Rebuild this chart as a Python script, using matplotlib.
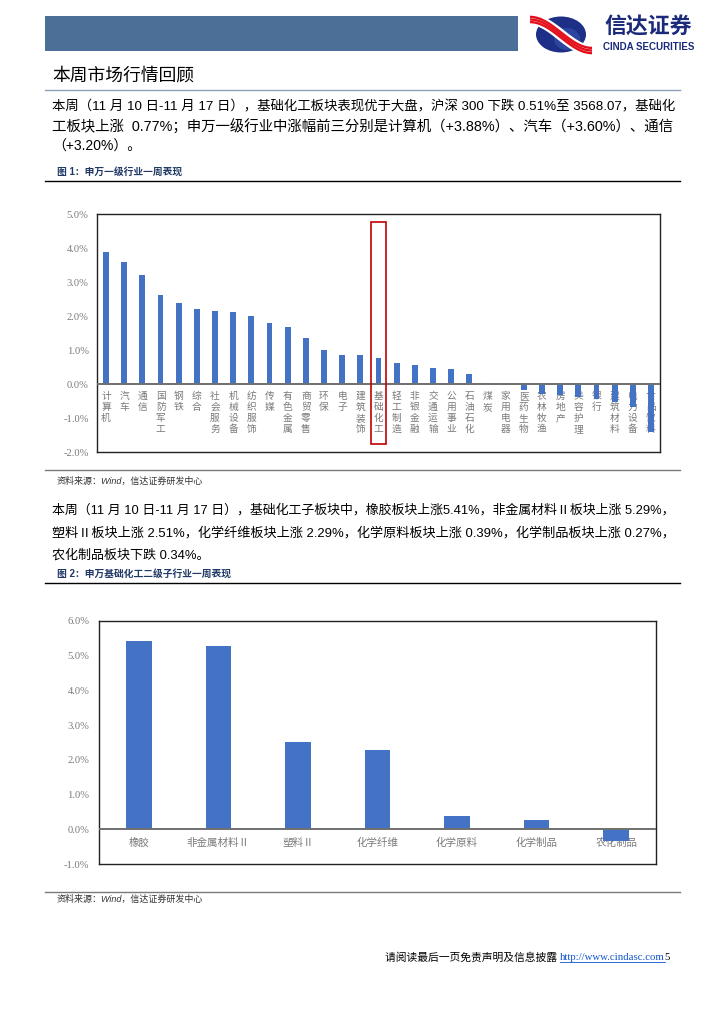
import matplotlib
matplotlib.use('Agg')
import matplotlib.pyplot as plt
from matplotlib.patches import Rectangle, Ellipse
from matplotlib.lines import Line2D
import numpy as np

plt.rcParams['font.family'] = ['Liberation Sans', 'Noto Sans CJK SC', 'DejaVu Sans']

W, H = 724, 1024

# 图1 数据：申万一级行业一周涨跌幅(%)
industries = ['计算机', '汽车', '通信', '国防军工', '钢铁', '综合', '社会服务', '机械设备',
              '纺织服饰', '传媒', '有色金属', '商贸零售', '环保', '电子', '建筑装饰',
              '基础化工', '轻工制造', '非银金融', '交通运输', '公用事业', '石油石化', '煤炭',
              '家用电器', '医药生物', '农林牧渔', '房地产', '美容护理', '银行', '建筑材料',
              '电力设备', '食品饮料']
ind_chg = [3.88, 3.60, 3.20, 2.61, 2.38, 2.20, 2.14, 2.12, 1.99, 1.79, 1.67, 1.34, 1.01,
           0.86, 0.85, 0.77, 0.63, 0.57, 0.48, 0.44, 0.28, 0.02, -0.03, -0.19, -0.30,
           -0.32, -0.37, -0.43, -0.52, -0.69, -1.41]
highlight = '基础化工'
y1_ticks = [-2, -1, 0, 1, 2, 3, 4, 5]

# 图2 数据：基础化工二级子行业
sub_names = ['橡胶', '非金属材料Ⅱ', '塑料Ⅱ', '化学纤维', '化学原料', '化学制品', '农化制品']
sub_chg = [5.41, 5.29, 2.51, 2.29, 0.39, 0.27, -0.34]
y2_ticks = [-1, 0, 1, 2, 3, 4, 5, 6]

para1 = ['本周（11 月 10 日-11 月 17 日），基础化工板块表现优于大盘，沪深 300 下跌 0.51%至 3568.07，基础化',
         '工板块上涨  0.77%；申万一级行业中涨幅前三分别是计算机（+3.88%）、汽车（+3.60%）、通信',
         '（+3.20%）。']
para2 = ['本周（11 月 10 日-11 月 17 日），基础化工子板块中，橡胶板块上涨5.41%，非金属材料Ⅱ板块上涨 5.29%，',
         '塑料Ⅱ板块上涨 2.51%，化学纤维板块上涨 2.29%，化学原料板块上涨 0.39%，化学制品板块上涨 0.27%，',
         '农化制品板块下跌 0.34%。']

BLUE = '#4472C4'
GRAY = '#7a7a7a'

fig = plt.figure(figsize=(W / 100, H / 100), dpi=100)
renderer = fig.canvas.get_renderer()


def fy(y):
    return 1 - y / H


def hline(x0, x1, y, color, lw):
    fig.add_artist(Line2D([x0 / W, x1 / W], [fy(y), fy(y)], color=color, lw=lw))


def put(x, y, s, size, **kw):
    kw.setdefault('va', 'center')
    return fig.text(x / W, fy(y), s, fontsize=size, **kw)


def fit(t, width):
    bb = t.get_window_extent(renderer)
    t.set_fontsize(t.get_fontsize() * width / bb.width)
    return t.get_fontsize()


def paragraph(lines, ys, x0, x1):
    sizes = []
    texts = []
    for s, y in zip(lines, ys):
        texts.append(put(x0, y, s, 9, color='black'))
    for t in texts[:-1]:
        sizes.append(fit(t, x1 - x0))
    texts[-1].set_fontsize(np.mean(sizes))


# 页眉
fig.add_artist(Rectangle((45 / W, fy(51)), (518 - 45) / W, 35 / H,
                         transform=fig.transFigure, color='#4B6F96', lw=0))
lax = fig.add_axes([528 / W, fy(55), 66 / W, 41 / H])
lax.set_xlim(0, 66)
lax.set_ylim(0, 41)
lax.axis('off')
lax.add_patch(Ellipse((33, 20.5), 50, 36, color='#1d2f86', lw=0))
lax.add_patch(Ellipse((39, 16), 26, 22, color='#3f5bb8', alpha=0.5, lw=0))
tt = np.linspace(0, 1, 80)
bx = 2 + 62 * tt
by = 20 + 15.5 * np.cos(np.pi * tt)
lax.plot(bx, by, color='white', lw=8, solid_capstyle='butt')
for off in [-2.6, 0, 2.6]:
    lax.plot(bx, by + off, color='#e3101c', lw=1.7, solid_capstyle='butt')
t = put(604, 27, '信达证券', 14, color='#1b2a7a', weight='bold', family=['Noto Sans CJK SC'])
fit(t, 88)
t = put(603, 47.5, 'CINDA SECURITIES', 5.2, color='#1b2a7a', weight='bold', family=['Liberation Sans'])
fit(t, 92)

# 标题与正文
put(52, 76, '本周市场行情回顾', 12.8, color='black', family=['Noto Sans CJK SC'])
hline(45, 680, 90, '#8ea0b8', 1.0)
paragraph(para1, [107, 127, 147], 52, 677)
put(57, 172, '图 1：申万一级行业一周表现', 7, color='#1f3864', weight='bold')
hline(45, 680, 181, 'black', 1.0)

# 图1
ax1 = fig.add_axes([97 / W, fy(452), (660 - 97) / W, (452 - 214) / H])
x1 = np.arange(len(industries))
ax1.bar(x1, ind_chg, width=0.32, color=BLUE, zorder=2)
ax1.set_xlim(-0.5, len(industries) - 0.5)
ax1.set_ylim(min(y1_ticks), max(y1_ticks))
ax1.axhline(0, color='#6f6f6f', lw=1.4, zorder=3)
ax1.set_xticks([])
ax1.set_yticks(y1_ticks)
ax1.set_yticklabels([f'{v:.1f}%' for v in y1_ticks], family=['Liberation Serif'])
ax1.tick_params(axis='y', length=0, labelsize=7.6, labelcolor=GRAY, pad=6)
for sp in ax1.spines.values():
    sp.set_linewidth(1.0)
    sp.set_color('#222222')
for i, name in enumerate(industries):
    ax1.annotate('\n'.join(name), (i, 0), xytext=(0, -5), textcoords='offset points',
                 ha='center', va='top', fontsize=7, color=GRAY, linespacing=1.12,
                 family=['Noto Sans CJK SC'], zorder=1)
hi = industries.index(highlight)
ax1.add_patch(Rectangle((hi - 0.39, -1.77), 0.78, 6.54, fill=False, ec='#C00000',
                        lw=1.2, zorder=4))

hline(45, 680, 470, GRAY, 1.0)
put(57, 481, '资料来源：Wind，信达证券研发中心', 6.5, color='#333333', style='italic')

paragraph(para2, [510, 533, 555], 52, 677)
put(57, 574, '图 2：申万基础化工二级子行业一周表现', 7, color='#1f3864', weight='bold')
hline(45, 680, 583, 'black', 1.0)

# 图2
ax2 = fig.add_axes([99 / W, fy(864), (656 - 99) / W, (864 - 621) / H])
x2 = np.arange(len(sub_names))
ax2.bar(x2, sub_chg, width=0.32, color=BLUE, zorder=2)
ax2.set_xlim(-0.5, len(sub_names) - 0.5)
ax2.set_ylim(min(y2_ticks), max(y2_ticks))
ax2.axhline(0, color='#6f6f6f', lw=1.4, zorder=3)
ax2.set_xticks([])
ax2.set_yticks(y2_ticks)
ax2.set_yticklabels([f'{v:.1f}%' for v in y2_ticks], family=['Liberation Serif'])
ax2.tick_params(axis='y', length=0, labelsize=7.6, labelcolor=GRAY, pad=7)
for sp in ax2.spines.values():
    sp.set_linewidth(1.0)
    sp.set_color('#222222')
for i, name in enumerate(sub_names):
    ax2.annotate(name, (i, 0), xytext=(0, -10), textcoords='offset points',
                 ha='center', va='center', fontsize=7.6, color=GRAY,
                 family=['Noto Sans CJK SC'], zorder=1)

hline(45, 680, 892, GRAY, 1.0)
put(57, 899, '资料来源：Wind，信达证券研发中心', 6.5, color='#333333', style='italic')

# 页脚
fs = 7.2 * 287 / 266
t1 = put(385, 957, '请阅读最后一页免责声明及信息披露 ', fs, color='black')
bb = t1.get_window_extent(renderer)
t2 = fig.text(bb.x1 / W, fy(957), 'http://www.cindasc.com', fontsize=fs, color='#1155cc',
              va='center', family=['Liberation Serif'])
bb2 = t2.get_window_extent(renderer)
fig.add_artist(Line2D([bb2.x0 / W, bb2.x1 / W], [bb2.y0 / H, bb2.y0 / H], color='#1155cc', lw=0.6))
fig.text(bb2.x1 / W, fy(957), '5', fontsize=fs, color='black', va='center',
         family=['Liberation Serif'])

fig.savefig('out.png', dpi=100)
